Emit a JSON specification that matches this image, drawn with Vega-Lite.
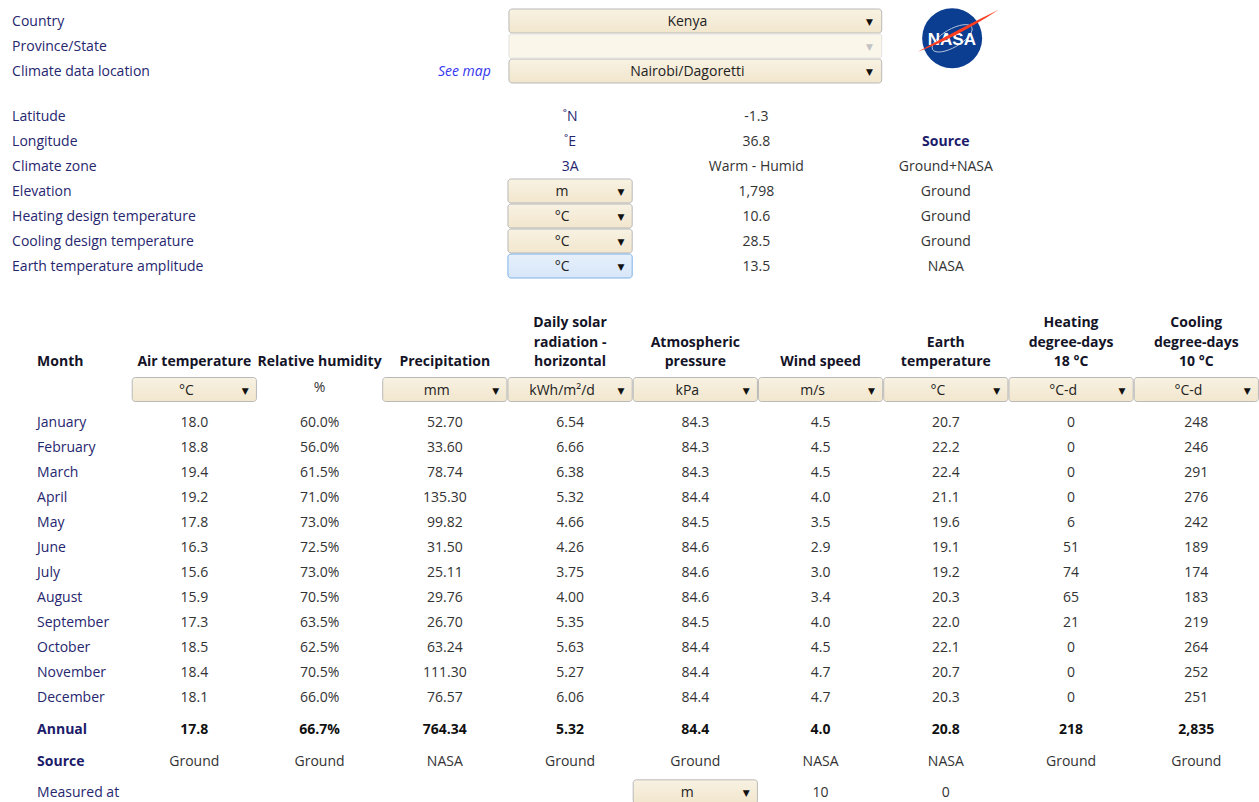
{
  "$schema": "https://vega.github.io/schema/vega-lite/v6.json",
  "width": 1259,
  "height": 802,
  "autosize": {"type": "none"},
  "padding": 0,
  "background": "white",
  "config": {
    "view": {"stroke": null},
    "axis": {"disable": true},
    "font": "Open Sans",
    "text": {"font": "Open Sans", "fontSize": 14, "dy": 1}
  },
  "datasets": {
    "form1": [
      {"label": "Country", "choice": "Kenya", "link": ""},
      {"label": "Province/State", "choice": "", "link": ""},
      {"label": "Climate data location", "choice": "Nairobi/Dagoretti", "link": "See map"}
    ],
    "form2": [
      {"label": "Latitude", "unit": "˚N", "unitInput": "fixed", "value": "-1.3", "source": ""},
      {"label": "Longitude", "unit": "˚E", "unitInput": "fixed", "value": "36.8", "source": ""},
      {"label": "Climate zone", "unit": "3A", "unitInput": "fixed", "value": "Warm - Humid", "source": "Ground+NASA"},
      {"label": "Elevation", "unit": "m", "unitInput": "select", "value": "1,798", "source": "Ground"},
      {"label": "Heating design temperature", "unit": "°C", "unitInput": "select", "value": "10.6", "source": "Ground"},
      {"label": "Cooling design temperature", "unit": "°C", "unitInput": "select", "value": "28.5", "source": "Ground"},
      {"label": "Earth temperature amplitude", "unit": "°C", "unitInput": "focused", "value": "13.5", "source": "NASA"}
    ],
    "titles": [
      {"column": "Air temperature", "title": "Air temperature"},
      {"column": "Relative humidity", "title": "Relative humidity"},
      {"column": "Precipitation", "title": "Precipitation"},
      {"column": "Daily solar radiation - horizontal", "title": "Daily solar\nradiation -\nhorizontal"},
      {"column": "Atmospheric pressure", "title": "Atmospheric\npressure"},
      {"column": "Wind speed", "title": "Wind speed"},
      {"column": "Earth temperature", "title": "Earth\ntemperature"},
      {"column": "Heating degree-days 18 °C", "title": "Heating\ndegree-days\n18 °C"},
      {"column": "Cooling degree-days 10 °C", "title": "Cooling\ndegree-days\n10 °C"}
    ],
    "units": [
      {"column": "Air temperature", "unit": "°C", "input": "select"},
      {"column": "Relative humidity", "unit": "%", "input": "fixed"},
      {"column": "Precipitation", "unit": "mm", "input": "select"},
      {"column": "Daily solar radiation - horizontal", "unit": "kWh/m²/d", "input": "select"},
      {"column": "Atmospheric pressure", "unit": "kPa", "input": "select"},
      {"column": "Wind speed", "unit": "m/s", "input": "select"},
      {"column": "Earth temperature", "unit": "°C", "input": "select"},
      {"column": "Heating degree-days 18 °C", "unit": "°C-d", "input": "select"},
      {"column": "Cooling degree-days 10 °C", "unit": "°C-d", "input": "select"}
    ],
    "months": [
      {"month": "January", "air": 18.0, "rh": 0.600, "precip": 52.70, "solar": 6.54, "pressure": 84.3, "wind": 4.5, "earth": 20.7, "hdd": 0, "cdd": 248},
      {"month": "February", "air": 18.8, "rh": 0.560, "precip": 33.60, "solar": 6.66, "pressure": 84.3, "wind": 4.5, "earth": 22.2, "hdd": 0, "cdd": 246},
      {"month": "March", "air": 19.4, "rh": 0.615, "precip": 78.74, "solar": 6.38, "pressure": 84.3, "wind": 4.5, "earth": 22.4, "hdd": 0, "cdd": 291},
      {"month": "April", "air": 19.2, "rh": 0.710, "precip": 135.30, "solar": 5.32, "pressure": 84.4, "wind": 4.0, "earth": 21.1, "hdd": 0, "cdd": 276},
      {"month": "May", "air": 17.8, "rh": 0.730, "precip": 99.82, "solar": 4.66, "pressure": 84.5, "wind": 3.5, "earth": 19.6, "hdd": 6, "cdd": 242},
      {"month": "June", "air": 16.3, "rh": 0.725, "precip": 31.50, "solar": 4.26, "pressure": 84.6, "wind": 2.9, "earth": 19.1, "hdd": 51, "cdd": 189},
      {"month": "July", "air": 15.6, "rh": 0.730, "precip": 25.11, "solar": 3.75, "pressure": 84.6, "wind": 3.0, "earth": 19.2, "hdd": 74, "cdd": 174},
      {"month": "August", "air": 15.9, "rh": 0.705, "precip": 29.76, "solar": 4.00, "pressure": 84.6, "wind": 3.4, "earth": 20.3, "hdd": 65, "cdd": 183},
      {"month": "September", "air": 17.3, "rh": 0.635, "precip": 26.70, "solar": 5.35, "pressure": 84.5, "wind": 4.0, "earth": 22.0, "hdd": 21, "cdd": 219},
      {"month": "October", "air": 18.5, "rh": 0.625, "precip": 63.24, "solar": 5.63, "pressure": 84.4, "wind": 4.5, "earth": 22.1, "hdd": 0, "cdd": 264},
      {"month": "November", "air": 18.4, "rh": 0.705, "precip": 111.30, "solar": 5.27, "pressure": 84.4, "wind": 4.7, "earth": 20.7, "hdd": 0, "cdd": 252},
      {"month": "December", "air": 18.1, "rh": 0.660, "precip": 76.57, "solar": 6.06, "pressure": 84.4, "wind": 4.7, "earth": 20.3, "hdd": 0, "cdd": 251}
    ],
    "annual": [
      {"row": "Annual", "air": 17.8, "rh": 0.667, "precip": 764.34, "solar": 5.32, "pressure": 84.4, "wind": 4.0, "earth": 20.8, "hdd": 218, "cdd": 2835}
    ],
    "sources": [
      {"column": "Air temperature", "source": "Ground"},
      {"column": "Relative humidity", "source": "Ground"},
      {"column": "Precipitation", "source": "NASA"},
      {"column": "Daily solar radiation - horizontal", "source": "Ground"},
      {"column": "Atmospheric pressure", "source": "Ground"},
      {"column": "Wind speed", "source": "NASA"},
      {"column": "Earth temperature", "source": "NASA"},
      {"column": "Heating degree-days 18 °C", "source": "Ground"},
      {"column": "Cooling degree-days 10 °C", "source": "Ground"}
    ],
    "measured": [
      {"column": "Wind speed", "height": 10},
      {"column": "Earth temperature", "height": 0}
    ],
    "agency": [{"agency": "NASA"}]
  },
  "resolve": {"scale": {"y": "independent"}},
  "layer": [
    {
      "layer": [
        {
          "data": {"name": "form1"},
          "transform": [{"filter": "datum.label !== 'Province/State'"}],
          "mark": {"type": "rect", "width": {"band": 3}, "cornerRadius": 3, "stroke": "#b9b9b9", "strokeWidth": 1,
            "fill": {"x1": 0, "y1": 0, "x2": 0, "y2": 1, "gradient": "linear", "stops": [{"offset": 0, "color": "#f8f2e3"}, {"offset": 1, "color": "#f2e6cd"}]}},
          "encoding": {
            "x": {"datum": "Atmospheric pressure", "type": "nominal",
              "scale": {"domain": ["Month", "Air temperature", "Relative humidity", "Precipitation", "Daily solar radiation - horizontal", "Atmospheric pressure", "Wind speed", "Earth temperature", "Heating degree-days 18 °C", "Cooling degree-days 10 °C"],
                "range": [6.45, 1258.95], "paddingInner": 0.008, "paddingOuter": 0.004}},
            "y": {"field": "label", "type": "nominal",
              "scale": {"domain": ["Country", "Province/State", "Climate data location"], "range": [8.5, 83.5], "paddingInner": 0.04, "paddingOuter": 0.02}}
          }
        },
        {
          "data": {"name": "form1"},
          "transform": [{"filter": "datum.label === 'Province/State'"}],
          "mark": {"type": "rect", "width": {"band": 3}, "cornerRadius": 2, "stroke": "#e2e2e2", "strokeWidth": 1, "fill": "#faf6ea"},
          "encoding": {
            "x": {"datum": "Atmospheric pressure", "type": "nominal"},
            "y": {"field": "label", "type": "nominal"}
          }
        },
        {
          "data": {"name": "form1"},
          "mark": {"type": "text", "dx": -8, "color": "#222222"},
          "encoding": {
            "x": {"datum": "Atmospheric pressure", "type": "nominal"},
            "y": {"field": "label", "type": "nominal"},
            "text": {"field": "choice"}
          }
        },
        {
          "data": {"name": "form1"},
          "mark": {"type": "text", "dx": 49, "fontSize": 9, "font": "DejaVu Sans"},
          "encoding": {
            "x": {"datum": "Wind speed", "type": "nominal"},
            "y": {"field": "label", "type": "nominal"},
            "text": {"value": "▼"},
            "color": {"condition": {"test": "datum.choice === ''", "value": "#c4c4c4"}, "value": "#111111"}
          }
        },
        {
          "data": {"name": "form1"},
          "mark": {"type": "text", "align": "left", "dx": -57, "color": "#26266e"},
          "encoding": {
            "x": {"datum": "Month", "type": "nominal"},
            "y": {"field": "label", "type": "nominal"},
            "text": {"field": "label"}
          }
        },
        {
          "data": {"name": "form1"},
          "mark": {"type": "text", "align": "right", "dx": 46, "fontStyle": "italic", "color": "#3434f0"},
          "encoding": {
            "x": {"datum": "Precipitation", "type": "nominal"},
            "y": {"field": "label", "type": "nominal"},
            "text": {"field": "link"}
          }
        },
        {
          "data": {"name": "agency"},
          "mark": {"type": "point", "shape": "circle", "filled": true, "color": "#0b3d91", "size": 3600, "opacity": 1},
          "encoding": {
            "x": {"datum": "Earth temperature", "type": "nominal", "bandPosition": 0.551},
            "y": {"datum": "Province/State", "type": "nominal", "bandPosition": 0.18}
          }
        },
        {
          "data": {"name": "agency"},
          "mark": {"type": "point", "shape": "M 0.65 -0.375 A 0.75 0.3 -30 1 1 -0.65 0.375 A 0.75 0.3 -30 1 1 0.65 -0.375", "filled": false, "stroke": "#ffffff", "strokeWidth": 1, "size": 3600, "opacity": 0.7},
          "encoding": {
            "x": {"datum": "Earth temperature", "type": "nominal", "bandPosition": 0.551},
            "y": {"datum": "Province/State", "type": "nominal", "bandPosition": 0.18}
          }
        },
        {
          "data": {"name": "agency"},
          "mark": {"type": "text", "dx": 6, "dy": -6.5, "fontWeight": "bold", "fontSize": 17, "font": "Liberation Sans", "color": "#ffffff"},
          "encoding": {
            "x": {"datum": "Earth temperature", "type": "nominal"},
            "y": {"datum": "Province/State", "type": "nominal"},
            "text": {"field": "agency"}
          }
        },
        {
          "data": {"name": "agency"},
          "mark": {"type": "point", "shape": "M -1.15 0.45 Q 0.1 0.0 1.55 -0.95 Q 0.25 -0.32 -1.15 0.45 Z", "filled": true, "color": "#fc3d21", "size": 3600, "opacity": 1},
          "encoding": {
            "x": {"datum": "Earth temperature", "type": "nominal", "bandPosition": 0.551},
            "y": {"datum": "Province/State", "type": "nominal", "bandPosition": 0.18}
          }
        }
      ]
    },
    {
      "layer": [
        {
          "data": {"name": "form2"},
          "transform": [{"filter": "datum.unitInput === 'select'"}],
          "mark": {"type": "rect", "cornerRadius": 3, "stroke": "#b9b9b9", "strokeWidth": 1,
            "fill": {"x1": 0, "y1": 0, "x2": 0, "y2": 1, "gradient": "linear", "stops": [{"offset": 0, "color": "#f8f2e3"}, {"offset": 1, "color": "#f2e6cd"}]}},
          "encoding": {
            "x": {"datum": "Daily solar radiation - horizontal", "type": "nominal"},
            "y": {"field": "label", "type": "nominal",
              "scale": {"domain": ["Latitude", "Longitude", "Climate zone", "Elevation", "Heating design temperature", "Cooling design temperature", "Earth temperature amplitude"], "range": [103.5, 278.5], "paddingInner": 0.04, "paddingOuter": 0.02}}
          }
        },
        {
          "data": {"name": "form2"},
          "transform": [{"filter": "datum.unitInput === 'focused'"}],
          "mark": {"type": "rect", "cornerRadius": 3, "stroke": "#7fb3e8", "strokeWidth": 1,
            "fill": {"x1": 0, "y1": 0, "x2": 0, "y2": 1, "gradient": "linear", "stops": [{"offset": 0, "color": "#e6f0fb"}, {"offset": 1, "color": "#d7e6f8"}]}},
          "encoding": {
            "x": {"datum": "Daily solar radiation - horizontal", "type": "nominal"},
            "y": {"field": "label", "type": "nominal"}
          }
        },
        {
          "data": {"name": "form2"},
          "transform": [{"filter": "datum.unitInput !== 'fixed'"}],
          "mark": {"type": "text", "dx": -8, "color": "#222222"},
          "encoding": {
            "x": {"datum": "Daily solar radiation - horizontal", "type": "nominal"},
            "y": {"field": "label", "type": "nominal"},
            "text": {"field": "unit"}
          }
        },
        {
          "data": {"name": "form2"},
          "transform": [{"filter": "datum.unitInput !== 'fixed'"}],
          "mark": {"type": "text", "dx": 51, "fontSize": 9, "font": "DejaVu Sans", "color": "#111111"},
          "encoding": {
            "x": {"datum": "Daily solar radiation - horizontal", "type": "nominal"},
            "y": {"field": "label", "type": "nominal"},
            "text": {"value": "▼"}
          }
        },
        {
          "data": {"name": "form2"},
          "transform": [{"filter": "datum.unitInput === 'fixed'"}],
          "mark": {"type": "text", "color": "#26266e"},
          "encoding": {
            "x": {"datum": "Daily solar radiation - horizontal", "type": "nominal"},
            "y": {"field": "label", "type": "nominal"},
            "text": {"field": "unit"}
          }
        },
        {
          "data": {"name": "form2"},
          "mark": {"type": "text", "align": "left", "dx": -57, "color": "#26266e"},
          "encoding": {
            "x": {"datum": "Month", "type": "nominal"},
            "y": {"field": "label", "type": "nominal"},
            "text": {"field": "label"}
          }
        },
        {
          "data": {"name": "form2"},
          "mark": {"type": "text", "dx": 61, "color": "#333333"},
          "encoding": {
            "x": {"datum": "Atmospheric pressure", "type": "nominal"},
            "y": {"field": "label", "type": "nominal"},
            "text": {"field": "value"}
          }
        },
        {
          "data": {"name": "form2"},
          "mark": {"type": "text", "color": "#333333"},
          "encoding": {
            "x": {"datum": "Earth temperature", "type": "nominal"},
            "y": {"field": "label", "type": "nominal"},
            "text": {"field": "source"}
          }
        },
        {
          "data": {"values": [{"heading": "Source"}]},
          "mark": {"type": "text", "fontWeight": "bold", "color": "#1c1c6a"},
          "encoding": {
            "x": {"datum": "Earth temperature", "type": "nominal"},
            "y": {"datum": "Longitude", "type": "nominal"},
            "text": {"field": "heading"}
          }
        }
      ]
    },
    {
      "layer": [
        {
          "data": {"values": [{"heading": "Month"}]},
          "mark": {"type": "text", "align": "left", "dx": -32, "dy": -2.5, "fontWeight": "bold", "color": "#141428"},
          "encoding": {
            "x": {"datum": "Month", "type": "nominal"},
            "y": {"datum": "title", "type": "nominal",
              "scale": {"domain": ["title", "units"], "range": [352, 402], "paddingInner": 0.04, "paddingOuter": 0.02}},
            "text": {"field": "heading"}
          }
        },
        {
          "data": {"name": "titles"},
          "transform": [{"filter": "indexof(datum.title, '\\n') < 0"}],
          "mark": {"type": "text", "dy": -2.5, "fontWeight": "bold", "color": "#141428"},
          "encoding": {
            "x": {"field": "column", "type": "nominal"},
            "y": {"datum": "title", "type": "nominal"},
            "text": {"field": "title"}
          }
        },
        {
          "data": {"name": "titles"},
          "transform": [{"filter": "indexof(datum.title, '\\n') >= 0 && indexof(datum.title, '\\n') === lastindexof(datum.title, '\\n')"}],
          "mark": {"type": "text", "dy": -22, "lineBreak": "\n", "lineHeight": 19.5, "fontWeight": "bold", "color": "#141428"},
          "encoding": {
            "x": {"field": "column", "type": "nominal"},
            "y": {"datum": "title", "type": "nominal"},
            "text": {"field": "title"}
          }
        },
        {
          "data": {"name": "titles"},
          "transform": [{"filter": "indexof(datum.title, '\\n') >= 0 && indexof(datum.title, '\\n') !== lastindexof(datum.title, '\\n')"}],
          "mark": {"type": "text", "dy": -41.5, "lineBreak": "\n", "lineHeight": 19.5, "fontWeight": "bold", "color": "#141428"},
          "encoding": {
            "x": {"field": "column", "type": "nominal"},
            "y": {"datum": "title", "type": "nominal"},
            "text": {"field": "title"}
          }
        },
        {
          "data": {"name": "units"},
          "transform": [{"filter": "datum.input === 'select'"}],
          "mark": {"type": "rect", "cornerRadius": 3, "stroke": "#b9b9b9", "strokeWidth": 1,
            "fill": {"x1": 0, "y1": 0, "x2": 0, "y2": 1, "gradient": "linear", "stops": [{"offset": 0, "color": "#f8f2e3"}, {"offset": 1, "color": "#f2e6cd"}]}},
          "encoding": {
            "x": {"field": "column", "type": "nominal"},
            "y": {"datum": "units", "type": "nominal"}
          }
        },
        {
          "data": {"name": "units"},
          "transform": [{"filter": "datum.input === 'select'"}],
          "mark": {"type": "text", "dx": -8, "color": "#222222"},
          "encoding": {
            "x": {"field": "column", "type": "nominal"},
            "y": {"datum": "units", "type": "nominal"},
            "text": {"field": "unit"}
          }
        },
        {
          "data": {"name": "units"},
          "transform": [{"filter": "datum.input === 'select'"}],
          "mark": {"type": "text", "dx": 51, "fontSize": 9, "font": "DejaVu Sans", "color": "#111111"},
          "encoding": {
            "x": {"field": "column", "type": "nominal"},
            "y": {"datum": "units", "type": "nominal"},
            "text": {"value": "▼"}
          }
        },
        {
          "data": {"name": "units"},
          "transform": [{"filter": "datum.input === 'fixed'"}],
          "mark": {"type": "text", "dy": -2, "color": "#333333"},
          "encoding": {
            "x": {"field": "column", "type": "nominal"},
            "y": {"datum": "units", "type": "nominal"},
            "text": {"field": "unit"}
          }
        }
      ]
    },
    {
      "data": {"name": "months"},
      "encoding": {
        "y": {"field": "month", "type": "nominal",
          "scale": {"domain": ["January", "February", "March", "April", "May", "June", "July", "August", "September", "October", "November", "December"], "range": [409.5, 709.5], "paddingInner": 0.04, "paddingOuter": 0.02}}
      },
      "layer": [
        {"mark": {"type": "text", "align": "left", "dx": -32, "color": "#26266e"},
         "encoding": {"x": {"datum": "Month", "type": "nominal"}, "text": {"field": "month"}}},
        {"mark": {"type": "text", "color": "#333333"},
         "encoding": {"x": {"datum": "Air temperature", "type": "nominal"}, "text": {"field": "air", "format": ".1f"}}},
        {"mark": {"type": "text", "color": "#333333"},
         "encoding": {"x": {"datum": "Relative humidity", "type": "nominal"}, "text": {"field": "rh", "format": ".1%"}}},
        {"mark": {"type": "text", "color": "#333333"},
         "encoding": {"x": {"datum": "Precipitation", "type": "nominal"}, "text": {"field": "precip", "format": ".2f"}}},
        {"mark": {"type": "text", "color": "#333333"},
         "encoding": {"x": {"datum": "Daily solar radiation - horizontal", "type": "nominal"}, "text": {"field": "solar", "format": ".2f"}}},
        {"mark": {"type": "text", "color": "#333333"},
         "encoding": {"x": {"datum": "Atmospheric pressure", "type": "nominal"}, "text": {"field": "pressure", "format": ".1f"}}},
        {"mark": {"type": "text", "color": "#333333"},
         "encoding": {"x": {"datum": "Wind speed", "type": "nominal"}, "text": {"field": "wind", "format": ".1f"}}},
        {"mark": {"type": "text", "color": "#333333"},
         "encoding": {"x": {"datum": "Earth temperature", "type": "nominal"}, "text": {"field": "earth", "format": ".1f"}}},
        {"mark": {"type": "text", "color": "#333333"},
         "encoding": {"x": {"datum": "Heating degree-days 18 °C", "type": "nominal"}, "text": {"field": "hdd", "format": ","}}},
        {"mark": {"type": "text", "color": "#333333"},
         "encoding": {"x": {"datum": "Cooling degree-days 10 °C", "type": "nominal"}, "text": {"field": "cdd", "format": ","}}}
      ]
    },
    {
      "layer": [
        {
          "data": {"values": [{"row": "Annual"}, {"row": "Source"}]},
          "mark": {"type": "text", "align": "left", "dx": -32, "fontWeight": "bold", "color": "#1c1c6a"},
          "encoding": {
            "x": {"datum": "Month", "type": "nominal"},
            "y": {"field": "row", "type": "nominal",
              "scale": {"domain": ["Annual", "Source", "Measured at"], "range": [713.5, 807.5], "paddingInner": 0.234, "paddingOuter": 0.117}},
            "text": {"field": "row"}
          }
        },
        {
          "data": {"values": [{"row": "Measured at"}]},
          "mark": {"type": "text", "align": "left", "dx": -32, "color": "#26266e"},
          "encoding": {
            "x": {"datum": "Month", "type": "nominal"},
            "y": {"field": "row", "type": "nominal"},
            "text": {"field": "row"}
          }
        },
        {
          "data": {"name": "annual"},
          "encoding": {"y": {"field": "row", "type": "nominal"}},
          "layer": [
            {"mark": {"type": "text", "fontWeight": "bold", "color": "#111111"},
             "encoding": {"x": {"datum": "Air temperature", "type": "nominal"}, "text": {"field": "air", "format": ".1f"}}},
            {"mark": {"type": "text", "fontWeight": "bold", "color": "#111111"},
             "encoding": {"x": {"datum": "Relative humidity", "type": "nominal"}, "text": {"field": "rh", "format": ".1%"}}},
            {"mark": {"type": "text", "fontWeight": "bold", "color": "#111111"},
             "encoding": {"x": {"datum": "Precipitation", "type": "nominal"}, "text": {"field": "precip", "format": ".2f"}}},
            {"mark": {"type": "text", "fontWeight": "bold", "color": "#111111"},
             "encoding": {"x": {"datum": "Daily solar radiation - horizontal", "type": "nominal"}, "text": {"field": "solar", "format": ".2f"}}},
            {"mark": {"type": "text", "fontWeight": "bold", "color": "#111111"},
             "encoding": {"x": {"datum": "Atmospheric pressure", "type": "nominal"}, "text": {"field": "pressure", "format": ".1f"}}},
            {"mark": {"type": "text", "fontWeight": "bold", "color": "#111111"},
             "encoding": {"x": {"datum": "Wind speed", "type": "nominal"}, "text": {"field": "wind", "format": ".1f"}}},
            {"mark": {"type": "text", "fontWeight": "bold", "color": "#111111"},
             "encoding": {"x": {"datum": "Earth temperature", "type": "nominal"}, "text": {"field": "earth", "format": ".1f"}}},
            {"mark": {"type": "text", "fontWeight": "bold", "color": "#111111"},
             "encoding": {"x": {"datum": "Heating degree-days 18 °C", "type": "nominal"}, "text": {"field": "hdd", "format": ","}}},
            {"mark": {"type": "text", "fontWeight": "bold", "color": "#111111"},
             "encoding": {"x": {"datum": "Cooling degree-days 10 °C", "type": "nominal"}, "text": {"field": "cdd", "format": ","}}}
          ]
        },
        {
          "data": {"name": "sources"},
          "mark": {"type": "text", "color": "#333333"},
          "encoding": {
            "x": {"field": "column", "type": "nominal"},
            "y": {"datum": "Source", "type": "nominal"},
            "text": {"field": "source"}
          }
        },
        {
          "data": {"values": [{"row": "Measured at", "unit": "m"}]},
          "mark": {"type": "rect", "cornerRadius": 3, "stroke": "#b9b9b9", "strokeWidth": 1,
            "fill": {"x1": 0, "y1": 0, "x2": 0, "y2": 1, "gradient": "linear", "stops": [{"offset": 0, "color": "#f8f2e3"}, {"offset": 1, "color": "#f2e6cd"}]}},
          "encoding": {
            "x": {"datum": "Atmospheric pressure", "type": "nominal"},
            "y": {"field": "row", "type": "nominal"}
          }
        },
        {
          "data": {"values": [{"row": "Measured at", "unit": "m"}]},
          "mark": {"type": "text", "dx": -8, "color": "#222222"},
          "encoding": {
            "x": {"datum": "Atmospheric pressure", "type": "nominal"},
            "y": {"field": "row", "type": "nominal"},
            "text": {"field": "unit"}
          }
        },
        {
          "data": {"values": [{"row": "Measured at", "unit": "m"}]},
          "mark": {"type": "text", "dx": 51, "fontSize": 9, "font": "DejaVu Sans", "color": "#111111"},
          "encoding": {
            "x": {"datum": "Atmospheric pressure", "type": "nominal"},
            "y": {"field": "row", "type": "nominal"},
            "text": {"value": "▼"}
          }
        },
        {
          "data": {"name": "measured"},
          "mark": {"type": "text", "color": "#333333"},
          "encoding": {
            "x": {"field": "column", "type": "nominal"},
            "y": {"datum": "Measured at", "type": "nominal"},
            "text": {"field": "height", "format": "d"}
          }
        }
      ]
    }
  ]
}
